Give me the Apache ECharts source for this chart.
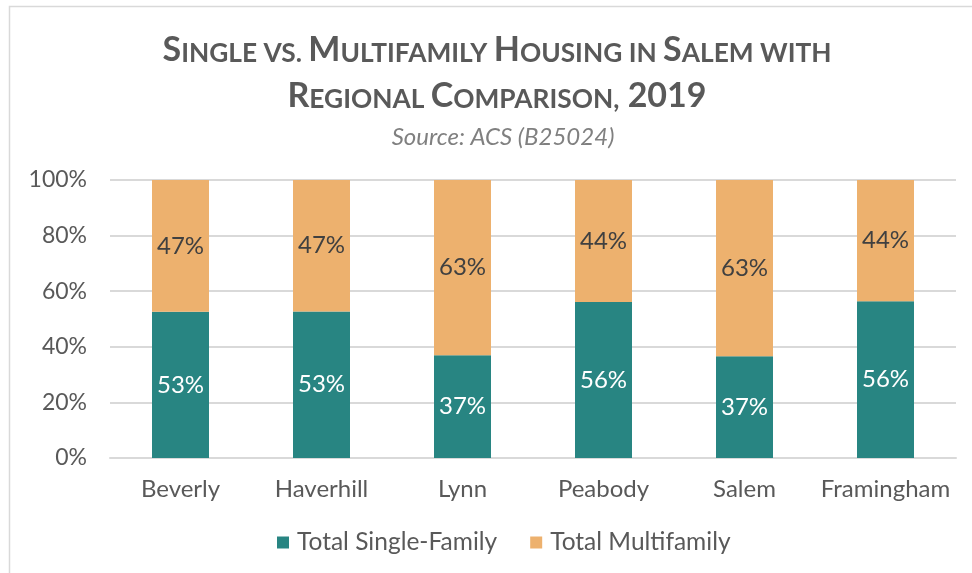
<!DOCTYPE html>
<html>
<head>
<meta charset="utf-8">
<script src="https://cdn.jsdelivr.net/npm/echarts@6/dist/echarts.min.js"></script>
<style>
  html, body { margin: 0; padding: 0; background: #fff; }
  #chart { width: 972px; height: 573px; }
</style>
</head>
<body>
<div id="chart"></div>
<script>
// 数据
var towns = ['Beverly', 'Haverhill', 'Lynn', 'Peabody', 'Salem', 'Framingham'];
var singleFamily = [0.526, 0.527, 0.370, 0.561, 0.366, 0.564];
var multiFamily = [0.474, 0.473, 0.630, 0.439, 0.634, 0.436];
var yTicks = [0, 0.2, 0.4, 0.6, 0.8, 1];

var myChart = echarts.init(document.getElementById('chart'));

var pct = function (v) { return Math.round(v * 100) + '%'; };

var option = {
    textStyle: { fontFamily: 'Lato' },
    graphic: [{
        type: 'rect',
        shape: { x: 9.5, y: 6.5, width: 1200, height: 1000 },
        style: { fill: 'none', stroke: '#d9d9d9', lineWidth: 1.5 },
        silent: true
    }],
    title: [{
        left: 492,
        textAlign: 'center',
        top: 16,
        text: '{b|S}{s|INGLE VS. }{b|M}{s|ULTIFAMILY }{b|H}{s|OUSING IN }{b|S}{s|ALEM WITH}\n' +
              '{b|R}{s|EGIONAL }{b|C}{s|OMPARISON}{s|,}{b| 2019}',
        textStyle: {
            rich: {
                b: { fontFamily: 'Lato', fontWeight: 'bold', fontSize: 34, color: '#595959', lineHeight: 46, verticalAlign: 'bottom' },
                s: { fontFamily: 'Lato', fontWeight: 'bold', fontSize: 26.3, color: '#595959', lineHeight: 46, verticalAlign: 'bottom' }
            }
        }
    }, {
        left: 498,
        textAlign: 'center',
        top: 120,
        text: 'Source: ACS (B25024)',
        textStyle: { fontFamily: 'Lato', fontStyle: 'italic', fontWeight: 'normal', fontSize: 24, color: '#808080' }
    }],
    legend: {
        bottom: 13,
        left: 272,
        itemWidth: 12,
        itemHeight: 12,
        itemGap: 33,
        icon: 'rect',
        textStyle: { fontSize: 24.5, color: '#595959', fontFamily: 'Lato', padding: [0, 0, 0, 3] },
        data: ['Total Single-Family', 'Total Multifamily']
    },
    grid: { left: 110, right: 16, top: 180, bottom: 115, containLabel: false },
    xAxis: {
        type: 'category',
        data: towns,
        axisTick: { show: false },
        axisLine: { lineStyle: { color: '#d9d9d9', width: 2 } },
        axisLabel: { fontSize: 24, color: '#595959', margin: 19, interval: 0 }
    },
    yAxis: {
        type: 'value',
        min: 0,
        max: 1,
        interval: 0.2,
        axisLabel: {
            fontSize: 23, color: '#595959', margin: 23,
            formatter: function (v) { return pct(v); }
        },
        splitLine: { lineStyle: { color: '#d9d9d9', width: 2 } }
    },
    series: [{
        name: 'Total Single-Family',
        type: 'bar',
        stack: 'total',
        barWidth: 57,
        data: singleFamily,
        itemStyle: { color: '#288582' },
        label: {
            show: true, position: 'inside', fontSize: 24, color: '#ffffff',
            formatter: function (p) { return pct(p.value); }
        }
    }, {
        name: 'Total Multifamily',
        type: 'bar',
        stack: 'total',
        barWidth: 57,
        data: multiFamily,
        itemStyle: { color: '#edb16e' },
        label: {
            show: true, position: 'inside', fontSize: 24, color: '#404040',
            formatter: function (p) { return pct(p.value); }
        }
    }]
};

myChart.setOption(option);
</script>
</body>
</html>
